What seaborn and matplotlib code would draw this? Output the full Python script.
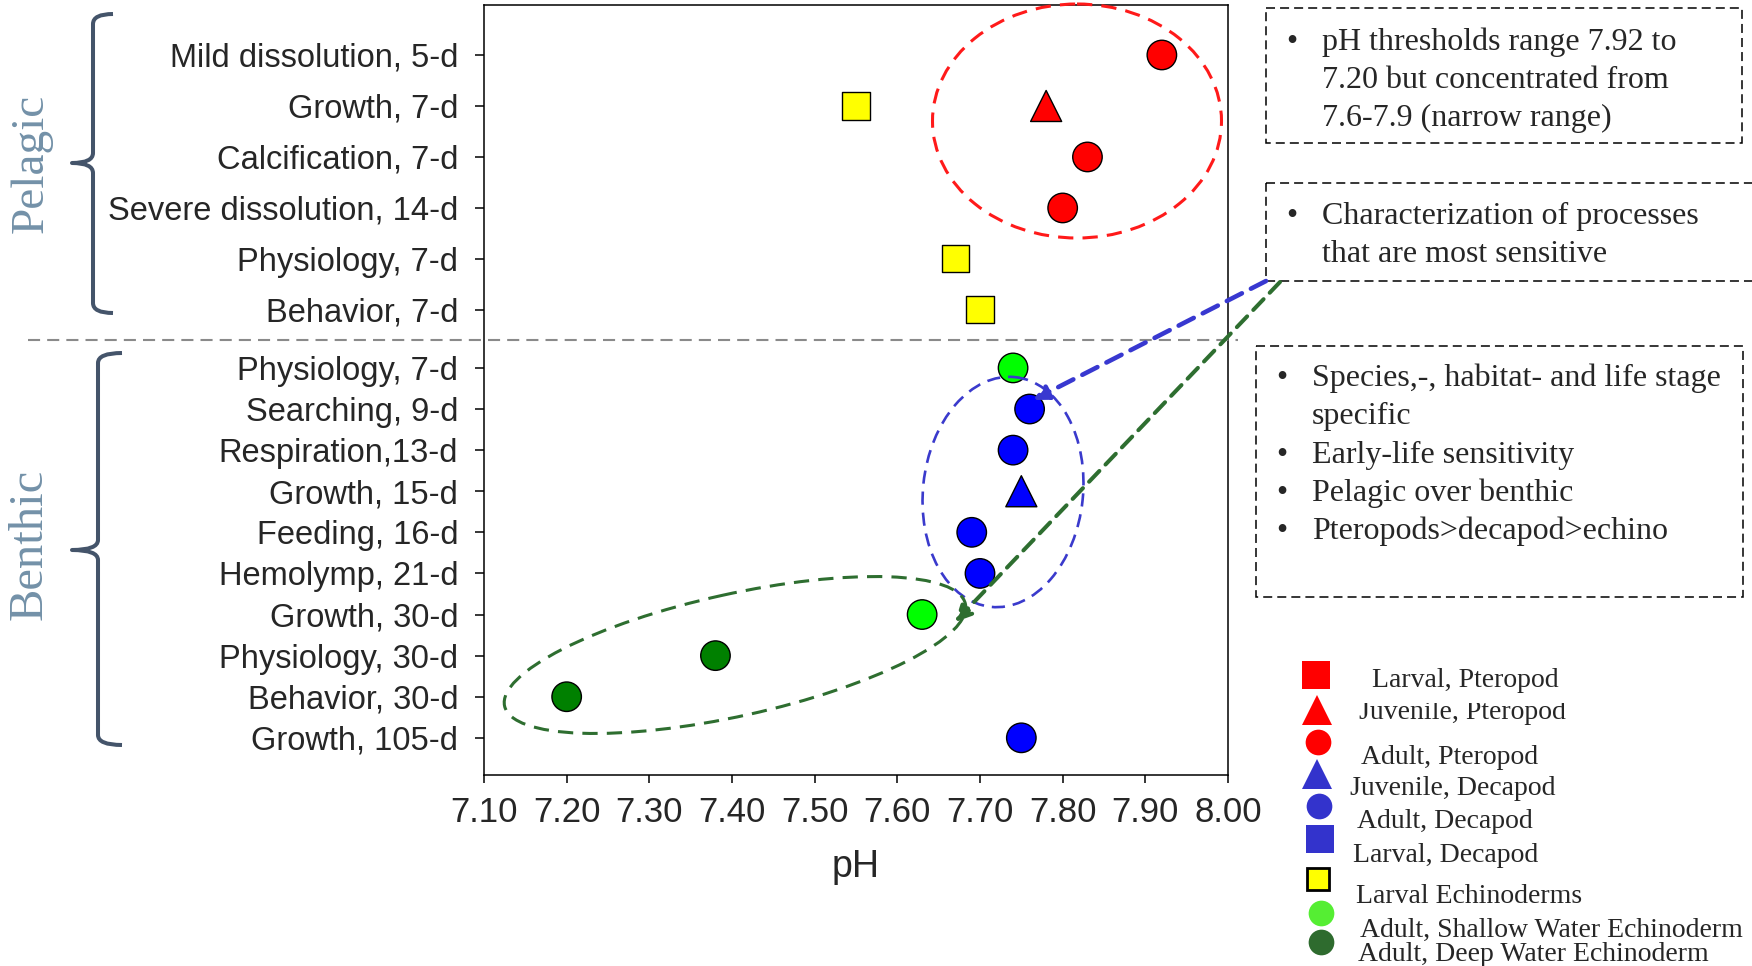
import numpy as np
import pandas as pd
import matplotlib
matplotlib.use("Agg")
import matplotlib.pyplot as plt
import seaborn as sns
from matplotlib.patches import Ellipse, Rectangle, PathPatch
from matplotlib.path import Path
from matplotlib.transforms import Bbox
from matplotlib import font_manager

# ---------------- data ----------------
pelagic_labels = ["Mild dissolution, 5-d", "Growth, 7-d", "Calcification, 7-d",
                  "Severe dissolution, 14-d", "Physiology, 7-d", "Behavior, 7-d"]
benthic_labels = ["Physiology, 7-d", "Searching, 9-d", "Respiration,13-d", "Growth, 15-d",
                  "Feeding, 16-d", "Hemolymp, 21-d", "Growth, 30-d", "Physiology, 30-d",
                  "Behavior, 30-d", "Growth, 105-d"]

pelagic_rows = [0, 1, 1, 2, 3, 4, 5]
pelagic_ph = [7.92, 7.55, 7.78, 7.83, 7.80, 7.67, 7.70]
pelagic_group = ["Adult, Pteropod", "Larval Echinoderms", "Juvenile, Pteropod",
                 "Adult, Pteropod", "Adult, Pteropod", "Larval Echinoderms", "Larval Echinoderms"]

benthic_rows = [0, 1, 2, 3, 4, 5, 6, 7, 8, 9]
benthic_ph = [7.74, 7.76, 7.74, 7.75, 7.69, 7.70, 7.63, 7.38, 7.20, 7.75]
benthic_group = ["Adult, Shallow Water Echinoderm", "Adult, Decapod", "Adult, Decapod",
                 "Juvenile, Decapod", "Adult, Decapod", "Adult, Decapod",
                 "Adult, Shallow Water Echinoderm", "Adult, Deep Water Echinoderm",
                 "Adult, Deep Water Echinoderm", "Adult, Decapod"]

x_ticks = [7.10, 7.20, 7.30, 7.40, 7.50, 7.60, 7.70, 7.80, 7.90, 8.00]

legend_labels = ["Larval, Pteropod", "Juvenile, Pteropod", "Adult, Pteropod",
                 "Juvenile, Decapod", "Adult, Decapod", "Larval, Decapod",
                 "Larval Echinoderms", "Adult, Shallow Water Echinoderm",
                 "Adult, Deep Water Echinoderm"]

box1_lines = [(True, "pH thresholds range 7.92 to"), (False, "7.20 but concentrated from"),
              (False, "7.6-7.9 (narrow range)")]
box2_lines = [(True, "Characterization of processes"), (False, "that are most sensitive")]
box3_lines = [(True, "Species,-, habitat- and life stage"), (False, "specific"),
              (True, "Early-life sensitivity"), (True, "Pelagic over benthic"),
              (True, "Pteropods>decapod>echino")]

# ---------------- styles / layout ----------------
W, H, DPI = 1752, 966, 100
AX_L, AX_R, AX_T, AX_B = 484, 1228, 5, 775
PEL_STEP, BEN_START, BEN_STEP = 1.0, 6.137, 0.806
Y_TOP, Y_BOT = -0.98, 14.12

palette = {"Adult, Pteropod": "#ff0000", "Juvenile, Pteropod": "#ff0000",
           "Larval Echinoderms": "#ffff00", "Adult, Decapod": "#0000ff",
           "Juvenile, Decapod": "#0000ff", "Adult, Shallow Water Echinoderm": "#00ff00",
           "Adult, Deep Water Echinoderm": "#008000"}
markers = {"Adult, Pteropod": "o", "Juvenile, Pteropod": "^", "Larval Echinoderms": "s",
           "Adult, Decapod": "o", "Juvenile, Decapod": "^",
           "Adult, Shallow Water Echinoderm": "o", "Adult, Deep Water Echinoderm": "o"}
sizes = {"Adult, Pteropod": 450, "Juvenile, Pteropod": 500, "Larval Echinoderms": 380,
         "Adult, Decapod": 450, "Juvenile, Decapod": 500,
         "Adult, Shallow Water Echinoderm": 450, "Adult, Deep Water Echinoderm": 450}

sns.set_style("white")
plt.rcParams['font.family'] = ['Liberation Sans', 'DejaVu Sans']
installed = {f.name for f in font_manager.fontManager.ttflist}
narrow = 'Liberation Sans Narrow' if 'Liberation Sans Narrow' in installed else 'Liberation Sans'
SERIF = ['Liberation Serif', 'DejaVu Serif']

fig = plt.figure(figsize=(W / DPI, H / DPI), dpi=DPI)
ax = fig.add_axes([AX_L / W, 1 - AX_B / H, (AX_R - AX_L) / W, (AX_B - AX_T) / H])

y_pel = [i * PEL_STEP for i in range(len(pelagic_labels))]
y_ben = [BEN_START + i * BEN_STEP for i in range(len(benthic_labels))]

df = pd.DataFrame({
    "pH": pelagic_ph + benthic_ph,
    "y": [y_pel[r] for r in pelagic_rows] + [y_ben[r] for r in benthic_rows],
    "group": pelagic_group + benthic_group,
})

sns.scatterplot(data=df, x="pH", y="y", hue="group", style="group", size="group",
                palette=palette, markers=markers, sizes=sizes, edgecolor="black",
                linewidth=1.0, legend=False, ax=ax, zorder=4)

ax.set_xlim(x_ticks[0], x_ticks[-1])
ax.set_ylim(Y_BOT, Y_TOP)
ax.set_xticks(x_ticks)
ax.set_xticklabels([f"{v:.2f}" for v in x_ticks], fontsize=25, family=narrow)
ax.set_yticks(y_pel + y_ben)
ax.set_yticklabels(pelagic_labels + benthic_labels, fontsize=23.5)
ax.tick_params(axis="y", direction="out", length=6.5, width=1.1, pad=12, color="black",
               left=True)
ax.tick_params(axis="x", direction="out", length=6, width=1.1, pad=9, color="black",
               bottom=True)
ax.set_xlabel("pH", fontsize=27, family=narrow)
ax.xaxis.set_label_coords(0.5, -0.096)
ax.set_ylabel("")
for s in ax.spines.values():
    s.set_visible(True)
    s.set_color("black")
    s.set_linewidth(1.1)

# ---------------- overlay in pixel coordinates ----------------
ov = fig.add_axes([0, 0, 1, 1], zorder=10)
ov.set_xlim(0, W)
ov.set_ylim(H, 0)
ov.axis("off")
ov.patch.set_alpha(0)

# separator line
ov.plot([28, 1238], [340, 340], color="#8a8a8a", lw=1.5, ls=(0, (5.8, 3.4)))

# braces
def brace(x_line, x_tip, x_end, y_top, y_mid, y_bot, r=10):
    verts = [(x_end, y_top), (x_line, y_top), (x_line, y_top + r),
             (x_line, y_mid - r), (x_line, y_mid), (x_tip, y_mid),
             (x_line, y_mid), (x_line, y_mid + r),
             (x_line, y_bot - r), (x_line, y_bot), (x_end, y_bot)]
    codes = [Path.MOVETO, Path.CURVE3, Path.CURVE3, Path.LINETO, Path.CURVE3, Path.CURVE3,
             Path.CURVE3, Path.CURVE3, Path.LINETO, Path.CURVE3, Path.CURVE3]
    ov.add_patch(PathPatch(Path(verts, codes), fill=False, ec="#44546a", lw=2.9,
                           capstyle="butt", joinstyle="round"))

brace(93, 72, 113, 14, 163, 313)
brace(98, 72, 122, 353, 550, 745)
ov.text(31, 163, "Pelagic", rotation=90, ha="center", va="center", fontsize=34,
        family=SERIF, color="#7391a8")
ov.text(30, 544, "Benthic", rotation=90, ha="center", va="center", fontsize=35,
        family=SERIF, color="#7391a8")

# ellipses
ov.add_patch(Ellipse((1077, 121), 289, 234, angle=0, fill=False, ec="#ff1a1a", lw=2.2,
                     ls=(0, (5, 3))))
ov.add_patch(Ellipse((1003, 492), 160, 231, angle=6, fill=False, ec="#3a3acc", lw=1.9,
                     ls=(0, (5, 3))))
ov.add_patch(Ellipse((735, 655), 472, 122, angle=-12.5, fill=False, ec="#2e6e30", lw=2.2,
                     ls=(0, (5, 3))))

# arrows
ov.annotate("", xy=(1033, 400), xytext=(1266, 281),
            arrowprops=dict(arrowstyle="-|>", lw=3.3, color="#3838d0",
                            linestyle=(0, (3.7, 2.2)), mutation_scale=22,
                            shrinkA=0, shrinkB=0))
ov.annotate("", xy=(955, 622), xytext=(1280, 282),
            arrowprops=dict(arrowstyle="-|>", lw=2.9, color="#2e6e30",
                            linestyle=(0, (3.7, 2.2)), mutation_scale=24,
                            shrinkA=0, shrinkB=0))

# text boxes
def dashed_box(x0, y0, x1, y1):
    ov.add_patch(Rectangle((x0, y0), x1 - x0, y1 - y0, fill=False, ec="black", lw=1.1,
                           ls=(0, (5.9, 3.3)), clip_on=False))

def box_text(lines, bx, tx, baselines):
    for (bul, txt), yb in zip(lines, baselines):
        if bul:
            ov.text(bx, yb, "•", ha="center", va="baseline", fontsize=23, family=SERIF)
        ov.text(tx, yb, txt, ha="left", va="baseline", fontsize=23, family=SERIF)

dashed_box(1266, 8, 1742, 143)
box_text(box1_lines, 1292, 1322, [50, 88, 126])
dashed_box(1266, 183, 1770, 281)
box_text(box2_lines, 1292, 1322, [224, 262])
dashed_box(1256, 346, 1743, 597)
box_text(box3_lines, 1282, 1312, [386, 424, 463, 501, 539])

# legend (drawn as in the reference, loosely aligned)
leg_marker = [("s", "#ff0000", "none", 19.5), ("^", "#ff0000", "none", 21),
              ("o", "#ff0000", "none", 18.5), ("^", "#3333cc", "none", 21),
              ("o", "#3333cc", "none", 18.5), ("s", "#3333cc", "none", 19.5),
              ("s", "#ffff00", "black", 15.5), ("o", "#55ee33", "none", 18.5),
              ("o", "#2e6b2e", "none", 18.5)]
leg_mpos = [(1316, 675), (1317, 710), (1318, 742), (1317, 774), (1319, 806),
            (1320, 839), (1318, 879), (1321, 913), (1321, 942)]
leg_tpos = [(1372, 687), (1359, 719), (1361, 764), (1350, 795), (1357, 828),
            (1353, 862), (1356, 903), (1360, 937), (1358, 961)]
for (mk, fc, ec, ms), (mx, my), (tx, ty), lab in zip(leg_marker, leg_mpos, leg_tpos,
                                                     legend_labels):
    ov.plot([mx], [my], marker=mk, ms=ms, mfc=fc, mec=(fc if ec == "none" else ec),
            mew=(0 if ec == "none" else 2.0), ls="none")
    t = ov.text(tx, ty, lab, ha="left", va="baseline", fontsize=20, family=SERIF)
    if lab == "Juvenile, Pteropod":
        t.set_clip_box(Bbox([[0, 0], [W, H - 703]]))
        t.set_clip_on(True)

fig.savefig("out.png", dpi=DPI, facecolor="white")
